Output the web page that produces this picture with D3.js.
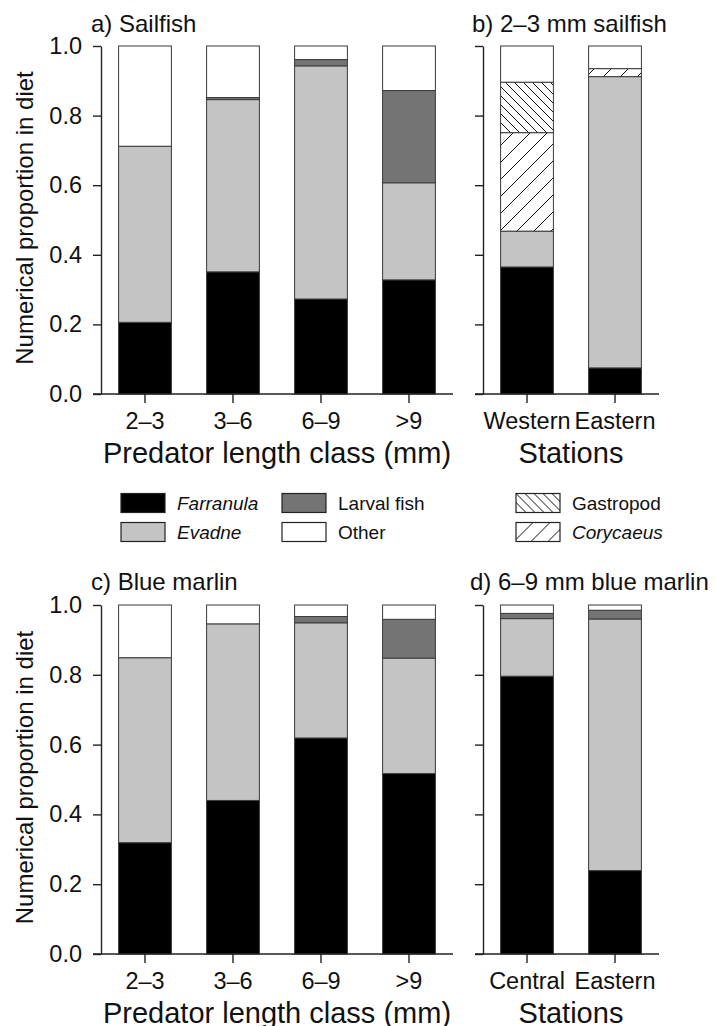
<!DOCTYPE html>
<html>
<head>
<meta charset="utf-8">
<script src="https://cdn.jsdelivr.net/npm/d3@7"></script>
<style>
  html, body { margin: 0; padding: 0; background: #fff; }
  svg text { font-family: "Liberation Sans", Arial, sans-serif; fill: #111; }
</style>
</head>
<body>
<svg id="chart" width="716" height="1026"></svg>
<script>
// Prey categories, stacked bottom to top
const preyKeys = ["Farranula", "Evadne", "Corycaeus", "Gastropod", "Larval fish", "Other"];

// a) Sailfish by predator length class
const sizeClasses = ["2–3", "3–6", "6–9", ">9"];
const sailFarranula = [0.206, 0.351, 0.273, 0.328];
const sailEvadne    = [0.506, 0.495, 0.670, 0.279];
const sailLarval    = [0.000, 0.006, 0.018, 0.265];
const sailOther     = [0.288, 0.148, 0.039, 0.128];

// b) 2–3 mm sailfish by station
const sailStations = ["Western", "Eastern"];
const stFarranula = [0.365, 0.075];
const stEvadne    = [0.103, 0.837];
const stCorycaeus = [0.283, 0.023];
const stGastropod = [0.145, 0.000];
const stOther     = [0.104, 0.065];

// c) Blue marlin by predator length class
const marlinFarranula = [0.319, 0.440, 0.619, 0.517];
const marlinEvadne    = [0.530, 0.506, 0.330, 0.331];
const marlinLarval    = [0.000, 0.000, 0.018, 0.111];
const marlinOther     = [0.151, 0.054, 0.033, 0.041];

// d) 6–9 mm blue marlin by station
const marlinStations = ["Central", "Eastern"];
const mstFarranula = [0.796, 0.239];
const mstEvadne    = [0.165, 0.721];
const mstLarval    = [0.015, 0.025];
const mstOther     = [0.024, 0.015];

const yTicks = [0, 0.2, 0.4, 0.6, 0.8, 1.0];

function rowsFrom(cats, series) {
  return cats.map((c, i) => {
    const r = { cat: c };
    preyKeys.forEach(k => { r[k] = series[k] ? series[k][i] : 0; });
    return r;
  });
}

const svg = d3.select("#chart");
const defs = svg.append("defs");

// hatch fills
function hatch(id, spacing, dir) {
  const p = defs.append("pattern")
    .attr("id", id)
    .attr("patternUnits", "userSpaceOnUse")
    .attr("width", spacing).attr("height", spacing);
  p.append("rect").attr("width", spacing).attr("height", spacing).attr("fill", "#fff");
  const s = spacing;
  const segs = dir === "back"
    ? [[0, 0, s, s], [-s, 0, 0, s], [s, 0, 2 * s, s]]
    : [[0, s, s, 0], [-s, s, 0, 0], [s, s, 2 * s, 0]];
  segs.forEach(([x1, y1, x2, y2]) => {
    p.append("line").attr("x1", x1).attr("y1", y1).attr("x2", x2).attr("y2", y2)
      .attr("stroke", "#111").attr("stroke-width", 1);
  });
}
hatch("hatchGastropod", 9, "back");
hatch("hatchCorycaeus", 17, "fwd");

const fills = {
  "Farranula": "#000000",
  "Evadne": "#c4c4c4",
  "Corycaeus": "url(#hatchCorycaeus)",
  "Gastropod": "url(#hatchGastropod)",
  "Larval fish": "#747474",
  "Other": "#ffffff"
};

const stack = d3.stack().keys(preyKeys);

function drawPanel(opt) {
  const { cats, rows, x0, x1, yBottom, yTop, tickLabels, title, titleX, titleY, xTitle, yTitle } = opt;
  const g = svg.append("g");
  const x = d3.scaleBand().domain(cats).range([x0, x1]).paddingInner(0.4).paddingOuter(0.2);
  const y = d3.scaleLinear().domain([0, 1]).range([yBottom, yTop]);

  const layers = stack(rows);
  g.selectAll("g.layer").data(layers).join("g")
    .attr("class", "layer")
    .attr("fill", d => fills[d.key])
    .selectAll("rect").data(d => d.filter(s => s[1] - s[0] > 0)).join("rect")
      .attr("x", d => x(d.data.cat))
      .attr("width", x.bandwidth())
      .attr("y", d => y(d[1]))
      .attr("height", d => y(d[0]) - y(d[1]))
      .attr("stroke", "#3a3a3a")
      .attr("stroke-width", 1);

  // y axis
  const ya = d3.axisLeft(y).tickValues(yTicks).tickSize(8).tickSizeOuter(0).tickPadding(11)
    .tickFormat(tickLabels ? d3.format(".1f") : () => "");
  const yg = g.append("g").attr("transform", `translate(${x0},0)`).call(ya);
  yg.select(".domain").attr("stroke", "#222").attr("stroke-width", 1.4);
  yg.selectAll(".tick line").attr("stroke", "#222").attr("stroke-width", 1.4);
  yg.selectAll("text").style("font-size", "23.5px").attr("fill", "#111");

  // x axis
  const xa = d3.axisBottom(x).tickSize(9).tickSizeOuter(0).tickPadding(9.5);
  const xg = g.append("g").attr("transform", `translate(0,${yBottom})`).call(xa);
  xg.select(".domain").remove();
  xg.append("line").attr("x1", x0 - 8).attr("x2", x1).attr("y1", 0).attr("y2", 0)
    .attr("stroke", "#222").attr("stroke-width", 1.4);
  xg.selectAll(".tick line").attr("stroke", "#222").attr("stroke-width", 1.4);
  xg.selectAll("text").style("font-size", "23.5px").attr("fill", "#111");

  g.append("text").attr("x", titleX).attr("y", titleY)
    .style("font-size", "24px").text(title);

  g.append("text").attr("x", (x0 + x1) / 2).attr("y", yBottom + 69)
    .attr("text-anchor", "middle").style("font-size", "29px").text(xTitle);

  if (yTitle) {
    g.append("text")
      .attr("transform", `translate(33,${(yBottom + yTop) / 2 - 2}) rotate(-90)`)
      .attr("text-anchor", "middle").style("font-size", "24px").text(yTitle);
  }
}

const yLab = "Numerical proportion in diet";

drawPanel({
  cats: sizeClasses,
  rows: rowsFrom(sizeClasses, { "Farranula": sailFarranula, "Evadne": sailEvadne, "Larval fish": sailLarval, "Other": sailOther }),
  x0: 101, x1: 453, yBottom: 394, yTop: 46, tickLabels: true,
  title: "a) Sailfish", titleX: 91, titleY: 32,
  xTitle: "Predator length class (mm)", yTitle: yLab
});

drawPanel({
  cats: sailStations,
  rows: rowsFrom(sailStations, { "Farranula": stFarranula, "Evadne": stEvadne, "Corycaeus": stCorycaeus, "Gastropod": stGastropod, "Other": stOther }),
  x0: 483, x1: 659, yBottom: 394, yTop: 46, tickLabels: false,
  title: "b) 2–3 mm sailfish", titleX: 472, titleY: 32,
  xTitle: "Stations"
});

drawPanel({
  cats: sizeClasses,
  rows: rowsFrom(sizeClasses, { "Farranula": marlinFarranula, "Evadne": marlinEvadne, "Larval fish": marlinLarval, "Other": marlinOther }),
  x0: 101, x1: 453, yBottom: 954, yTop: 605, tickLabels: true,
  title: "c) Blue marlin", titleX: 91, titleY: 590,
  xTitle: "Predator length class (mm)", yTitle: yLab
});

drawPanel({
  cats: marlinStations,
  rows: rowsFrom(marlinStations, { "Farranula": mstFarranula, "Evadne": mstEvadne, "Larval fish": mstLarval, "Other": mstOther }),
  x0: 483, x1: 659, yBottom: 954, yTop: 605, tickLabels: false,
  title: "d) 6–9 mm blue marlin", titleX: 470, titleY: 590,
  xTitle: "Stations"
});

// legend
const legendItems = [
  { key: "Farranula", x: 121, row: 0, italic: true },
  { key: "Evadne", x: 121, row: 1, italic: true },
  { key: "Larval fish", x: 282, row: 0, italic: false },
  { key: "Other", x: 282, row: 1, italic: false },
  { key: "Gastropod", x: 516, row: 0, italic: false },
  { key: "Corycaeus", x: 516, row: 1, italic: true }
];
const lg = svg.append("g");
const li = lg.selectAll("g").data(legendItems).join("g")
  .attr("transform", d => `translate(${d.x},${493.5 + d.row * 29})`);
li.append("rect").attr("width", 44).attr("height", 19)
  .attr("fill", d => fills[d.key]).attr("stroke", "#222").attr("stroke-width", 1.2);
li.append("text").attr("x", 56).attr("y", 16.5)
  .style("font-size", "19px")
  .style("font-style", d => d.italic ? "italic" : "normal")
  .text(d => d.key);
</script>
</body>
</html>
